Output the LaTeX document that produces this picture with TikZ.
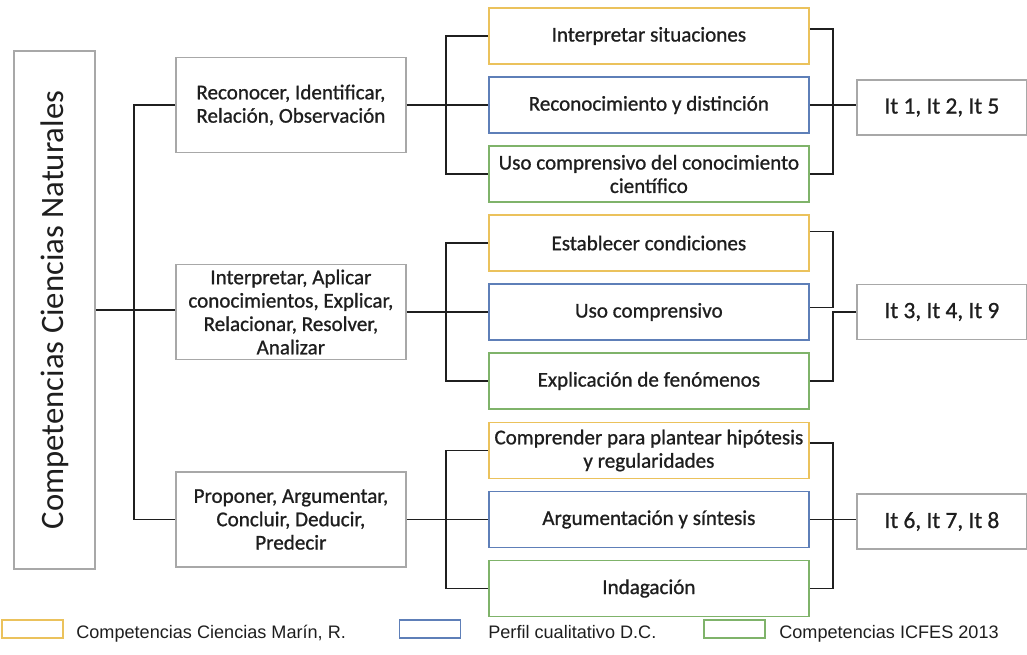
\documentclass[tikz,border=0pt]{standalone}
\usepackage{fontspec}
\setmainfont{Carlito}
\newfontfamily\boxfont[FakeBold=0.9]{Carlito}
\newfontfamily\legendfont{Liberation Sans}
\usetikzlibrary{positioning}

\definecolor{marincol}{HTML}{EBC25C}
\definecolor{perfilcol}{HTML}{5E7FB8}
\definecolor{icfescol}{HTML}{7FB36A}
\definecolor{boxgrey}{HTML}{A8A8A8}
\definecolor{inkcol}{HTML}{1E1E1E}

\tikzset{bb/.style={draw=boxgrey, line width=0.8pt, inner sep=1pt, align=center, text=inkcol, font=\boxfont\fontsize{12}{13.3}\selectfont}}
\tikzset{skill/.style={bb, minimum width=4.6cm, minimum height=1.9cm}}
\tikzset{comp/.style={bb, draw=#1, line width=1.1pt, minimum width=6.4cm, minimum height=1.12cm}}
\tikzset{itbox/.style={bb, minimum width=3.4cm, minimum height=1.1cm, font=\boxfont\fontsize{13.3}{15}\selectfont}}
\tikzset{lgbox/.style={draw=#1, line width=0.8pt, minimum width=1.22cm, minimum height=0.36cm, inner sep=0pt}}
\tikzset{lgtext/.style={anchor=base west, inner sep=0pt, text=inkcol, font=\legendfont\fontsize{10.3}{12}\selectfont}}
\tikzset{link/.style={draw=black!88, line width=1.1pt}}

\begin{document}
\begin{tikzpicture}[]
    \useasboundingbox (0,0) rectangle (20.54,-13.1);

    \node[bb, draw=boxgrey, line width=1pt, minimum width=1.62cm, minimum height=10.36cm, font=\rmfamily](main) at (1.09,-6.2) {\rotatebox{90}{\fontsize{18.6}{20}\selectfont Competencias Ciencias Naturales}};

    \node[skill] (g2) at ([xshift=3.9cm, yshift=-0.04cm] main.east) {Interpretar, Aplicar\\conocimientos, Explicar,\\Relacionar, Resolver,\\Analizar};
    \node[skill] (g1) at ([yshift=4.14cm] g2) {Reconocer, Identificar,\\Relación, Observación};
    \node[skill] (g3) at ([yshift=-4.15cm] g2) {Proponer, Argumentar,\\Concluir, Deducir,\\Predecir};

    \node[comp=perfilcol] (b1) at ([xshift=7.16cm] g1) {Reconocimiento y distinción};
    \node[comp=marincol] (a1) at ([yshift=1.38cm] b1) {Interpretar situaciones};
    \node[comp=icfescol] (c1) at ([yshift=-1.38cm] b1) {Uso comprensivo del conocimiento\\científico};

    \node[comp=perfilcol] (b2) at ([xshift=7.16cm] g2) {Uso comprensivo};
    \node[comp=marincol] (a2) at ([yshift=1.38cm] b2) {Establecer condiciones};
    \node[comp=icfescol] (c2) at ([yshift=-1.38cm] b2) {Explicación de fenómenos};

    \node[comp=perfilcol] (b3) at ([xshift=7.16cm] g3) {Argumentación y síntesis};
    \node[comp=marincol] (a3) at ([yshift=1.38cm] b3) {Comprender para plantear hipótesis\\y regularidades};
    \node[comp=icfescol] (c3) at ([yshift=-1.38cm] b3) {Indagación};

    \node[itbox] (r1) at ([xshift=5.86cm, yshift=-0.05cm] b1) {It 1, It 2, It 5};
    \node[itbox] (r2) at ([xshift=5.86cm] b2) {It 3, It 4, It 9};
    \node[itbox] (r3) at ([xshift=5.86cm, yshift=-0.04cm] b3) {It 6, It 7, It 8};

    \node[lgbox=marincol] (lgm) at (0.65,-12.58) {};
    \node[lgtext] (lgmt) at (1.52,-12.76) {Competencias Ciencias Marín, R.};
    \node[lgbox=perfilcol] (lgp) at (8.6,-12.58) {};
    \node[lgtext] (lgpt) at (9.76,-12.76) {Perfil cualitativo D.C.};
    \node[lgbox=icfescol] (lgi) at (14.69,-12.58) {};
    \node[lgtext] (lgit) at (15.58,-12.76) {Competencias ICFES 2013};

    \draw[link] (main.east) -- (main.east -| g2.west);

    \draw[link] (g1.west) -| ([xshift=-0.82cm]g3.west) -- (g3.west);

    \draw[link] (g1.east) -- (b1.west);

    \draw[link] (g2.east) -- (b2.west);

    \draw[link] (g3.east) -- (b3.west);

    \draw[link] (a1.west) -| ([xshift=-0.84cm]c1.west) -- (c1.west);

    \draw[link] (a2.west) -| ([xshift=-0.84cm]c2.west) -- (c2.west);

    \draw[link] (a3.west) -| ([xshift=-0.84cm]c3.west) -- (c3.west);

    \draw[link] ([yshift=0.14cm]a1.east) -| ([xshift=0.46cm]c1.east) -- (c1.east);

    \draw[link] (b1.east) -- (b1.east -| r1.west);

    \draw[link] ([yshift=0.23cm]a2.east) -| ([xshift=0.46cm, yshift=0.09cm]b2.east) -- ([yshift=0.09cm]b2.east);

    \draw[link] (r2.west) -| ([xshift=0.46cm]c2.east) -- (c2.east);

    \draw[link] ([yshift=0.15cm]a3.east) -| ([xshift=0.46cm]c3.east) -- (c3.east);

    \draw[link] (b3.east) -- (b3.east -| r3.west);

\end{tikzpicture}
\end{document}
